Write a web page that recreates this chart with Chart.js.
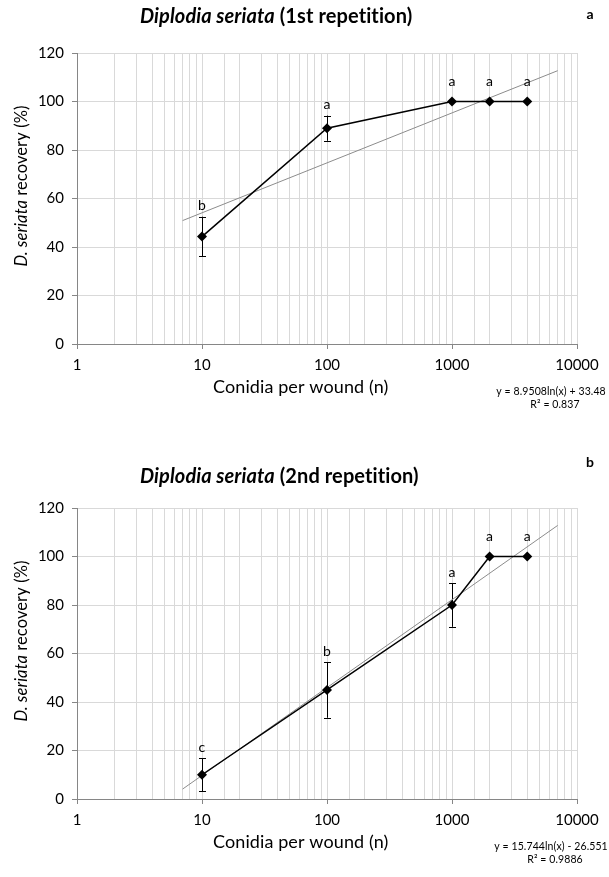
<!DOCTYPE html>
<html><head><meta charset="utf-8">
<script src="https://cdn.jsdelivr.net/npm/chart.js@4.4.1/dist/chart.umd.min.js"></script>
<style>
html,body{margin:0;padding:0;background:#fff;width:609px;height:877px;overflow:hidden}
canvas{position:absolute;left:0}
#c1{top:0}
#c2{top:455px}
</style></head><body>
<canvas id="c1" width="609" height="422"></canvas>
<canvas id="c2" width="609" height="422"></canvas>
<script>
// ---- data ----
const conidia = [10, 100, 1000, 2000, 4000];
const rep1Recovery = [44.3, 89, 100, 100, 100];
const rep1Error = [8.2, 5.2, 0, 0, 0];
const rep1Letters = ['b', 'a', 'a', 'a', 'a'];
const rep1TrendX = [7, 7000];
const rep1TrendY = [50.9, 112.7];
const rep1Equation = 'y = 8.9508ln(x) + 33.48';
const rep1R2 = 'R² = 0.837';

const rep2Recovery = [10, 45, 80, 100, 100];
const rep2Error = [6.8, 11.5, 9, 0, 0];
const rep2Letters = ['c', 'b', 'a', 'a', 'a'];
const rep2TrendX = [7, 7000];
const rep2TrendY = [4.1, 112.8];
const rep2Equation = 'y = 15.744ln(x) - 26.551';
const rep2R2 = 'R² = 0.9886';

const xTickLabels = [1, 10, 100, 1000, 10000];
const yTickLabels = [0, 20, 40, 60, 80, 100, 120];

const FONT = 'Lato';
const AXIS = '#868686';
const GRID = '#d9d9d9';

function drawRich(ctx, segs, x, y, align) {
  if ('letterSpacing' in ctx) ctx.letterSpacing = '0.1px';
  let w = 0;
  segs.forEach(s => { ctx.font = s.f; w += ctx.measureText(s.t).width; });
  let sx = align === 'center' ? x - w / 2 : (align === 'right' ? x - w : x);
  ctx.textBaseline = 'middle';
  ctx.textAlign = 'left';
  segs.forEach(s => { ctx.font = s.f; ctx.fillText(s.t, sx, y); sx += ctx.measureText(s.t).width; });
}

const decorPlugin = {
  id: 'decor',
  beforeDatasetsDraw(chart) {
    const o = chart.options.plugins.decor;
    const ctx = chart.ctx, xs = chart.scales.x, ys = chart.scales.y;
    ctx.save();
    ctx.strokeStyle = '#000';
    ctx.lineWidth = 1;
    o.values.forEach((v, i) => {
      const e = o.errors[i];
      if (!e) return;
      const px = Math.round(xs.getPixelForValue(conidia[i])) + 0.5;
      const top = ys.getPixelForValue(v + e), bot = ys.getPixelForValue(v - e);
      ctx.beginPath();
      ctx.moveTo(px, top); ctx.lineTo(px, bot);
      ctx.moveTo(px - 3.5, Math.round(top) + 0.5); ctx.lineTo(px + 3.5, Math.round(top) + 0.5);
      ctx.moveTo(px - 3.5, Math.round(bot) + 0.5); ctx.lineTo(px + 3.5, Math.round(bot) + 0.5);
      ctx.stroke();
    });
    ctx.restore();
  },
  afterDraw(chart) {
    const o = chart.options.plugins.decor;
    const ctx = chart.ctx, xs = chart.scales.x, ys = chart.scales.y;
    ctx.save();
    ctx.fillStyle = '#000';
    // significance letters
    o.values.forEach((v, i) => {
      const px = xs.getPixelForValue(conidia[i]);
      const top = ys.getPixelForValue(v + o.errors[i]);
      const off = o.errors[i] ? 11 : 20;
      drawRich(ctx, [{t: o.letters[i], f: '14px ' + FONT}], px, top - off, 'center');
    });
    // chart title
    drawRich(ctx, [
      {t: 'Diplodia seriata', f: 'italic bold 20px ' + FONT},
      {t: ' ' + o.titleRest, f: 'bold 20px ' + FONT}
    ], 140, o.titleY, 'left');
    // panel letter
    drawRich(ctx, [{t: o.panel, f: 'bold 14px ' + FONT}], 590, o.panelY, 'center');
    // y axis title
    ctx.save();
    ctx.translate(22, 186);
    ctx.rotate(-Math.PI / 2);
    drawRich(ctx, [
      {t: 'D. seriata', f: 'italic 16.5px ' + FONT},
      {t: ' recovery (%)', f: '16.5px ' + FONT}
    ], 0, 0, 'center');
    ctx.restore();
    // x axis title
    drawRich(ctx, [{t: 'Conidia per wound (n)', f: '18px ' + FONT}], 213, 387, 'left');
    // trend equation
    drawRich(ctx, [{t: o.eq, f: '10.5px ' + FONT}], 551, 392, 'center');
    drawRich(ctx, [{t: o.r2, f: '10.5px ' + FONT}], 555, 405, 'center');
    ctx.restore();
  }
};

function isDecade(v) {
  const l = Math.log10(v);
  return Math.abs(l - Math.round(l)) < 1e-9;
}

function makeChart(id, values, errors, letters, trendX, trendY, deco) {
  const pts = conidia.map((c, i) => ({x: c, y: values[i]}));
  const trend = trendX.map((c, i) => ({x: c, y: trendY[i]}));
  return new Chart(document.getElementById(id), {
    type: 'line',
    data: {
      datasets: [
        {data: trend, borderColor: '#8c8c8c', borderWidth: 1, pointRadius: 0, fill: false, order: 2},
        {data: pts, borderColor: '#000', borderWidth: 1.5, pointStyle: 'rectRot', pointRadius: 5,
         pointBackgroundColor: '#000', pointBorderColor: '#000', pointBorderWidth: 0, fill: false, order: 1}
      ]
    },
    options: {
      responsive: false,
      animation: false,
      devicePixelRatio: 1,
      layout: {padding: {top: 53, left: 0, right: 32, bottom: 48}},
      plugins: {
        legend: {display: false},
        tooltip: {enabled: false},
        decor: Object.assign({values, errors, letters}, deco)
      },
      scales: {
        x: {
          type: 'logarithmic',
          min: xTickLabels[0],
          max: xTickLabels[xTickLabels.length - 1],
          afterFit(s) { s.height = 30; },
          grid: {
            color: GRID, lineWidth: 1, drawTicks: true, tickLength: 5,
            tickColor: c => (c.tick && isDecade(c.tick.value)) ? AXIS : 'rgba(0,0,0,0)'
          },
          border: {display: true, color: AXIS, width: 1},
          ticks: {
            autoSkip: false, maxRotation: 0, padding: 7, color: '#000',
            font: {family: FONT, size: 15},
            callback: v => xTickLabels.includes(Math.round(v)) && isDecade(v) ? String(Math.round(v)) : ''
          }
        },
        y: {
          min: yTickLabels[0],
          max: yTickLabels[yTickLabels.length - 1],
          afterFit(s) { s.width = 77; },
          afterBuildTicks(s) { s.ticks = yTickLabels.map(v => ({value: v})); },
          grid: {color: GRID, lineWidth: 1, drawTicks: true, tickLength: 5, tickColor: AXIS},
          border: {display: true, color: AXIS, width: 1},
          ticks: {padding: 8, color: '#000', font: {family: FONT, size: 15}}
        }
      }
    },
    plugins: [decorPlugin]
  });
}

makeChart('c1', rep1Recovery, rep1Error, rep1Letters, rep1TrendX, rep1TrendY,
  {titleRest: '(1st repetition)', titleY: 17, panel: 'a', panelY: 14, eq: rep1Equation, r2: rep1R2});
makeChart('c2', rep2Recovery, rep2Error, rep2Letters, rep2TrendX, rep2TrendY,
  {titleRest: '(2nd repetition)', titleY: 22, panel: 'b', panelY: 7, eq: rep2Equation, r2: rep2R2});
</script>
</body></html>
